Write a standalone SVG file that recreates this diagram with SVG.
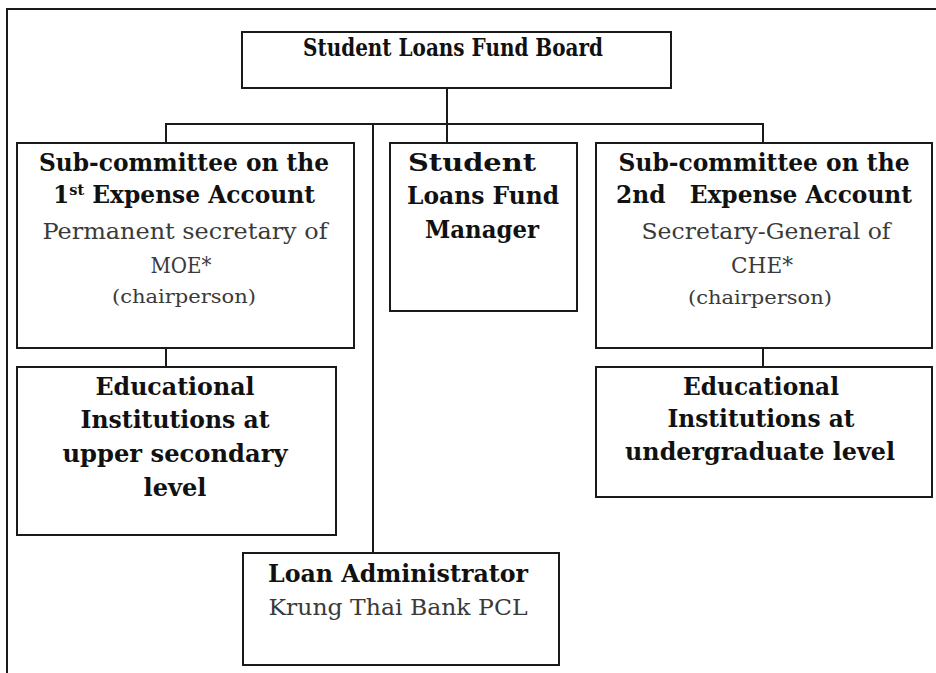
<svg xmlns="http://www.w3.org/2000/svg" width="936" height="673" viewBox="0 0 936 673">
<style>
.box{fill:#fff;stroke:#1a1a1a;stroke-width:2}
.ln{stroke:#1a1a1a;stroke-width:2;fill:none}
.b{font-family:"DejaVu Serif","Liberation Serif",serif;font-weight:bold;font-size:24px;fill:#111;text-anchor:middle}
.r{font-family:"DejaVu Serif","Liberation Serif",serif;font-size:23px;fill:#3a3a3a;text-anchor:middle}
.s{font-family:"DejaVu Serif","Liberation Serif",serif;font-size:18px;fill:#3a3a3a;text-anchor:middle}
</style>
<rect width="936" height="673" fill="#fff"/>
<path class="ln" d="M7,680 V9 H940"/>
<g id="connectors">
<path class="ln" d="M447,88 V143"/>
<path class="ln" d="M166,143 V124 H763 V143"/>
<path class="ln" d="M373,124 V553"/>
<path class="ln" d="M166,348 V367"/>
<path class="ln" d="M763,348 V367"/>
</g>
<g id="board">
<rect class="box" x="242" y="32" width="429" height="56"/>
<text class="b" x="453" y="56" font-size="21" textLength="300" lengthAdjust="spacingAndGlyphs">Student Loans Fund Board</text>
</g>
<g id="sub1">
<rect class="box" x="17" y="143" width="337" height="205"/>
<text class="b" x="184" y="171" textLength="290" lengthAdjust="spacingAndGlyphs">Sub-committee on the</text>
<text class="b" x="184" y="203" textLength="262" lengthAdjust="spacingAndGlyphs">1<tspan font-size="15" dy="-8">st</tspan><tspan dy="8"> Expense Account</tspan></text>
<text class="r" x="185" y="239" textLength="285" lengthAdjust="spacingAndGlyphs">Permanent secretary of</text>
<text class="r" x="181" y="273" textLength="61" lengthAdjust="spacingAndGlyphs">MOE*</text>
<text class="s" x="184" y="303" textLength="144" lengthAdjust="spacingAndGlyphs">(chairperson)</text>
</g>
<g id="manager">
<rect class="box" x="390" y="143" width="187" height="168"/>
<text class="b" x="472" y="171" textLength="128" lengthAdjust="spacingAndGlyphs">Student</text>
<text class="b" x="483" y="204" textLength="152" lengthAdjust="spacingAndGlyphs">Loans Fund</text>
<text class="b" x="482" y="238" textLength="114" lengthAdjust="spacingAndGlyphs">Manager</text>
</g>
<g id="sub2">
<rect class="box" x="596" y="143" width="336" height="205"/>
<text class="b" x="764" y="171" textLength="291" lengthAdjust="spacingAndGlyphs">Sub-committee on the</text>
<text class="b" x="764" y="203" textLength="296" lengthAdjust="spacingAndGlyphs" xml:space="preserve">2nd   Expense Account</text>
<text class="r" x="766" y="239" textLength="249" lengthAdjust="spacingAndGlyphs">Secretary-General of</text>
<text class="r" x="762" y="273" textLength="62" lengthAdjust="spacingAndGlyphs">CHE*</text>
<text class="s" x="760" y="304" textLength="144" lengthAdjust="spacingAndGlyphs">(chairperson)</text>
</g>
<g id="edu1">
<rect class="box" x="17" y="367" width="319" height="168"/>
<text class="b" x="175" y="395" textLength="159" lengthAdjust="spacingAndGlyphs">Educational</text>
<text class="b" x="175" y="428" textLength="189" lengthAdjust="spacingAndGlyphs">Institutions at</text>
<text class="b" x="175" y="462" textLength="225" lengthAdjust="spacingAndGlyphs">upper secondary</text>
<text class="b" x="175" y="496" textLength="63" lengthAdjust="spacingAndGlyphs">level</text>
</g>
<g id="edu2">
<rect class="box" x="596" y="367" width="336" height="130"/>
<text class="b" x="761" y="395" textLength="156" lengthAdjust="spacingAndGlyphs">Educational</text>
<text class="b" x="761" y="427" textLength="187" lengthAdjust="spacingAndGlyphs">Institutions at</text>
<text class="b" x="760" y="460" textLength="270" lengthAdjust="spacingAndGlyphs">undergraduate level</text>
</g>
<g id="admin">
<rect class="box" x="243" y="553" width="316" height="112"/>
<text class="b" x="398" y="582" textLength="260" lengthAdjust="spacingAndGlyphs">Loan Administrator</text>
<text class="r" x="398" y="615" textLength="259" lengthAdjust="spacingAndGlyphs">Krung Thai Bank PCL</text>
</g>
</svg>
